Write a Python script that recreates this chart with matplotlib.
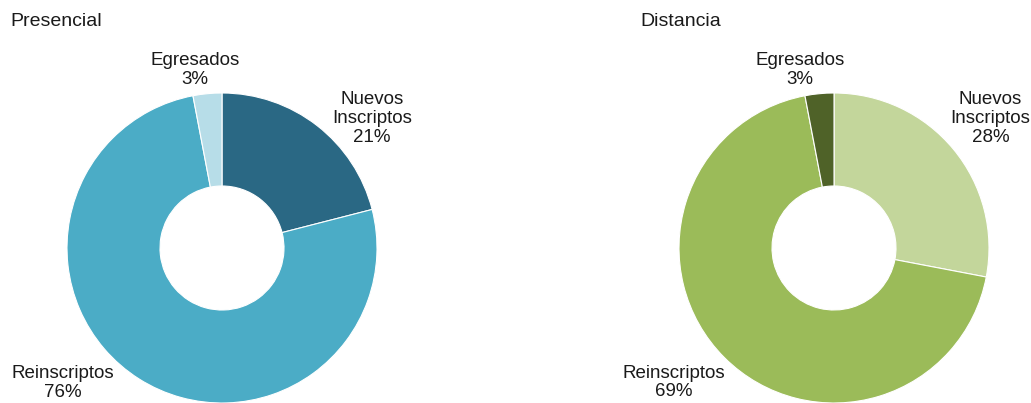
import numpy as np
import matplotlib.pyplot as plt

plt.rcParams['font.family'] = ['Liberation Sans', 'DejaVu Sans']

categories = ['Nuevos\nInscriptos', 'Reinscriptos', 'Egresados']
presencial = [21, 76, 3]
distancia = [28, 69, 3]
titles = ['Presencial', 'Distancia']

colors_pres = ['#2A6884', '#4BACC6', '#B7DDE8']
colors_dist = ['#C3D69B', '#9BBB59', '#4F6228']

# label placement (polar, radius in pie units, angle offset from wedge middle)
label_r = [[1.28, 1.35, 1.16], [1.31, 1.35, 1.17]]
label_dtheta = [[-11.3, -17.3, 3.2], [0.0, -5.0, 5.4]]

W, H = 1031, 403
fig = plt.figure(figsize=(W / 100, H / 100), dpi=100)

R = 155.0   # pie radius in pixels
L = 1.45    # half-extent of axes in pie units
S = 2 * L * R
centers = [(222, 248), (834, 248)]

for i, (vals, cols) in enumerate([(presencial, colors_pres), (distancia, colors_dist)]):
    cx, cy = centers[i]
    ax = fig.add_axes([(cx - S / 2) / W, (H - cy - S / 2) / H, S / W, S / H])
    wedges, _ = ax.pie(vals, colors=cols, startangle=90, counterclock=False,
                       radius=1.0, wedgeprops=dict(width=0.6, edgecolor='white', linewidth=0.8))
    ax.set_xlim(-L, L)
    ax.set_ylim(-L, L)
    ax.set_aspect('equal')
    ax.axis('off')
    for j, w in enumerate(wedges):
        mid = (w.theta1 + w.theta2) / 2 + label_dtheta[i][j]
        r = label_r[i][j]
        x, y = r * np.cos(np.radians(mid)), r * np.sin(np.radians(mid))
        ax.text(x, y, f'{categories[j]}\n{vals[j]}%', ha='center', va='center',
                fontsize=13.5, color='#1a1a1a', linespacing=1.15, clip_on=False)

fig.text(10 / W, 1 - 22 / H, titles[0], ha='left', va='center', fontsize=14, color='#1a1a1a')
fig.text(640 / W, 1 - 22 / H, titles[1], ha='left', va='center', fontsize=14, color='#1a1a1a')

fig.savefig('out.png', dpi=100, facecolor='white')
